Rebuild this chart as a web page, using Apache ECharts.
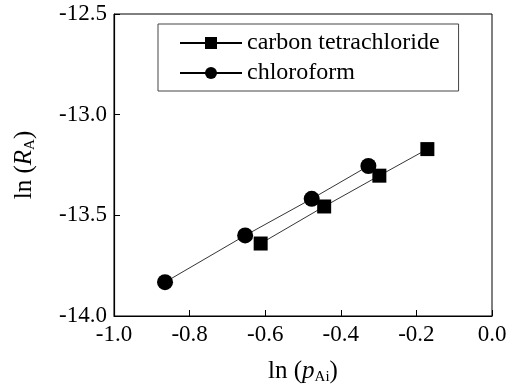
<!DOCTYPE html>
<html>
<head>
<meta charset="utf-8">
<script src="https://cdn.jsdelivr.net/npm/echarts@6/dist/echarts.min.js"></script>
<style>
  html, body { margin: 0; padding: 0; background: #fff; }
  #charts { width: 515px; height: 390px; }
</style>
</head>
<body>
<div id="charts"></div>
<script>
// values
var ccl4X = [-0.612, -0.444, -0.298, -0.171];
var ccl4Y = [-13.640, -13.456, -13.303, -13.171];
var chcl3X = [-0.865, -0.653, -0.477, -0.327];
var chcl3Y = [-13.832, -13.600, -13.418, -13.255];
var xTicks = [-1.0, -0.8, -0.6, -0.4, -0.2, 0.0];
var yTicks = [-14.0, -13.5, -13.0, -12.5];

function pairs(xs, ys) {
    return xs.map(function(x, i) { return [x, ys[i]]; });
}

var font = '"Liberation Serif", "Times New Roman", serif';
var myChart = echarts.init(document.getElementById('charts'));

var nameRich = {
    i: { fontFamily: font, fontSize: 25, fontStyle: 'italic', color: '#000' },
    s: { fontFamily: font, fontSize: 15, color: '#000', padding: [12, 0, 0, 0] }
};

var option = {
    animation: false,
    textStyle: { fontFamily: font, color: '#000' },
    grid: {
        left: 114, right: 23, top: 14, bottom: 73,
        show: true, borderColor: '#000', borderWidth: 1
    },
    legend: {
        left: 158, top: 24,
        orient: 'vertical',
        padding: [7, 19, 6, 21],
        itemGap: 6,
        itemWidth: 62, itemHeight: 15,
        borderColor: '#444', borderWidth: 1,
        textStyle: { fontFamily: font, fontSize: 24, color: '#000' },
        data: ['carbon tetrachloride', 'chloroform']
    },
    xAxis: {
        type: 'value',
        min: xTicks[0], max: xTicks[xTicks.length - 1], interval: 0.2,
        name: 'ln ({i|p}{s|Ai})',
        nameLocation: 'middle', nameGap: 42,
        nameTextStyle: { fontFamily: font, fontSize: 25, color: '#000', rich: nameRich },
        axisLine: { onZero: false, lineStyle: { color: '#000', width: 1.2 } },
        axisTick: { inside: true, length: 6, lineStyle: { color: '#000' } },
        axisLabel: {
            fontFamily: font, fontSize: 23, color: '#000', margin: 7,
            formatter: function(v) { return v.toFixed(1); }
        },
        splitLine: { show: false }
    },
    yAxis: {
        type: 'value',
        min: yTicks[0], max: yTicks[yTicks.length - 1], interval: 0.5,
        name: 'ln ({i|R}{s|A})',
        nameLocation: 'middle', nameGap: 76,
        nameTextStyle: { fontFamily: font, fontSize: 25, color: '#000', rich: nameRich },
        axisLine: { onZero: false, lineStyle: { color: '#000', width: 1.2 } },
        axisTick: { inside: true, length: 6, lineStyle: { color: '#000' } },
        axisLabel: {
            fontFamily: font, fontSize: 23, color: '#000', margin: 7,
            formatter: function(v) { return v.toFixed(1); }
        },
        splitLine: { show: false }
    },
    series: [{
        name: 'carbon tetrachloride',
        type: 'line',
        data: pairs(ccl4X, ccl4Y),
        symbol: 'rect', symbolSize: 14,
        itemStyle: { color: '#000' },
        lineStyle: { color: '#000', width: 0.8 }
    }, {
        name: 'chloroform',
        type: 'line',
        data: pairs(chcl3X, chcl3Y),
        symbol: 'circle', symbolSize: 16,
        itemStyle: { color: '#000' },
        lineStyle: { color: '#000', width: 0.8 }
    }]
};
myChart.setOption(option);
</script>
</body>
</html>
